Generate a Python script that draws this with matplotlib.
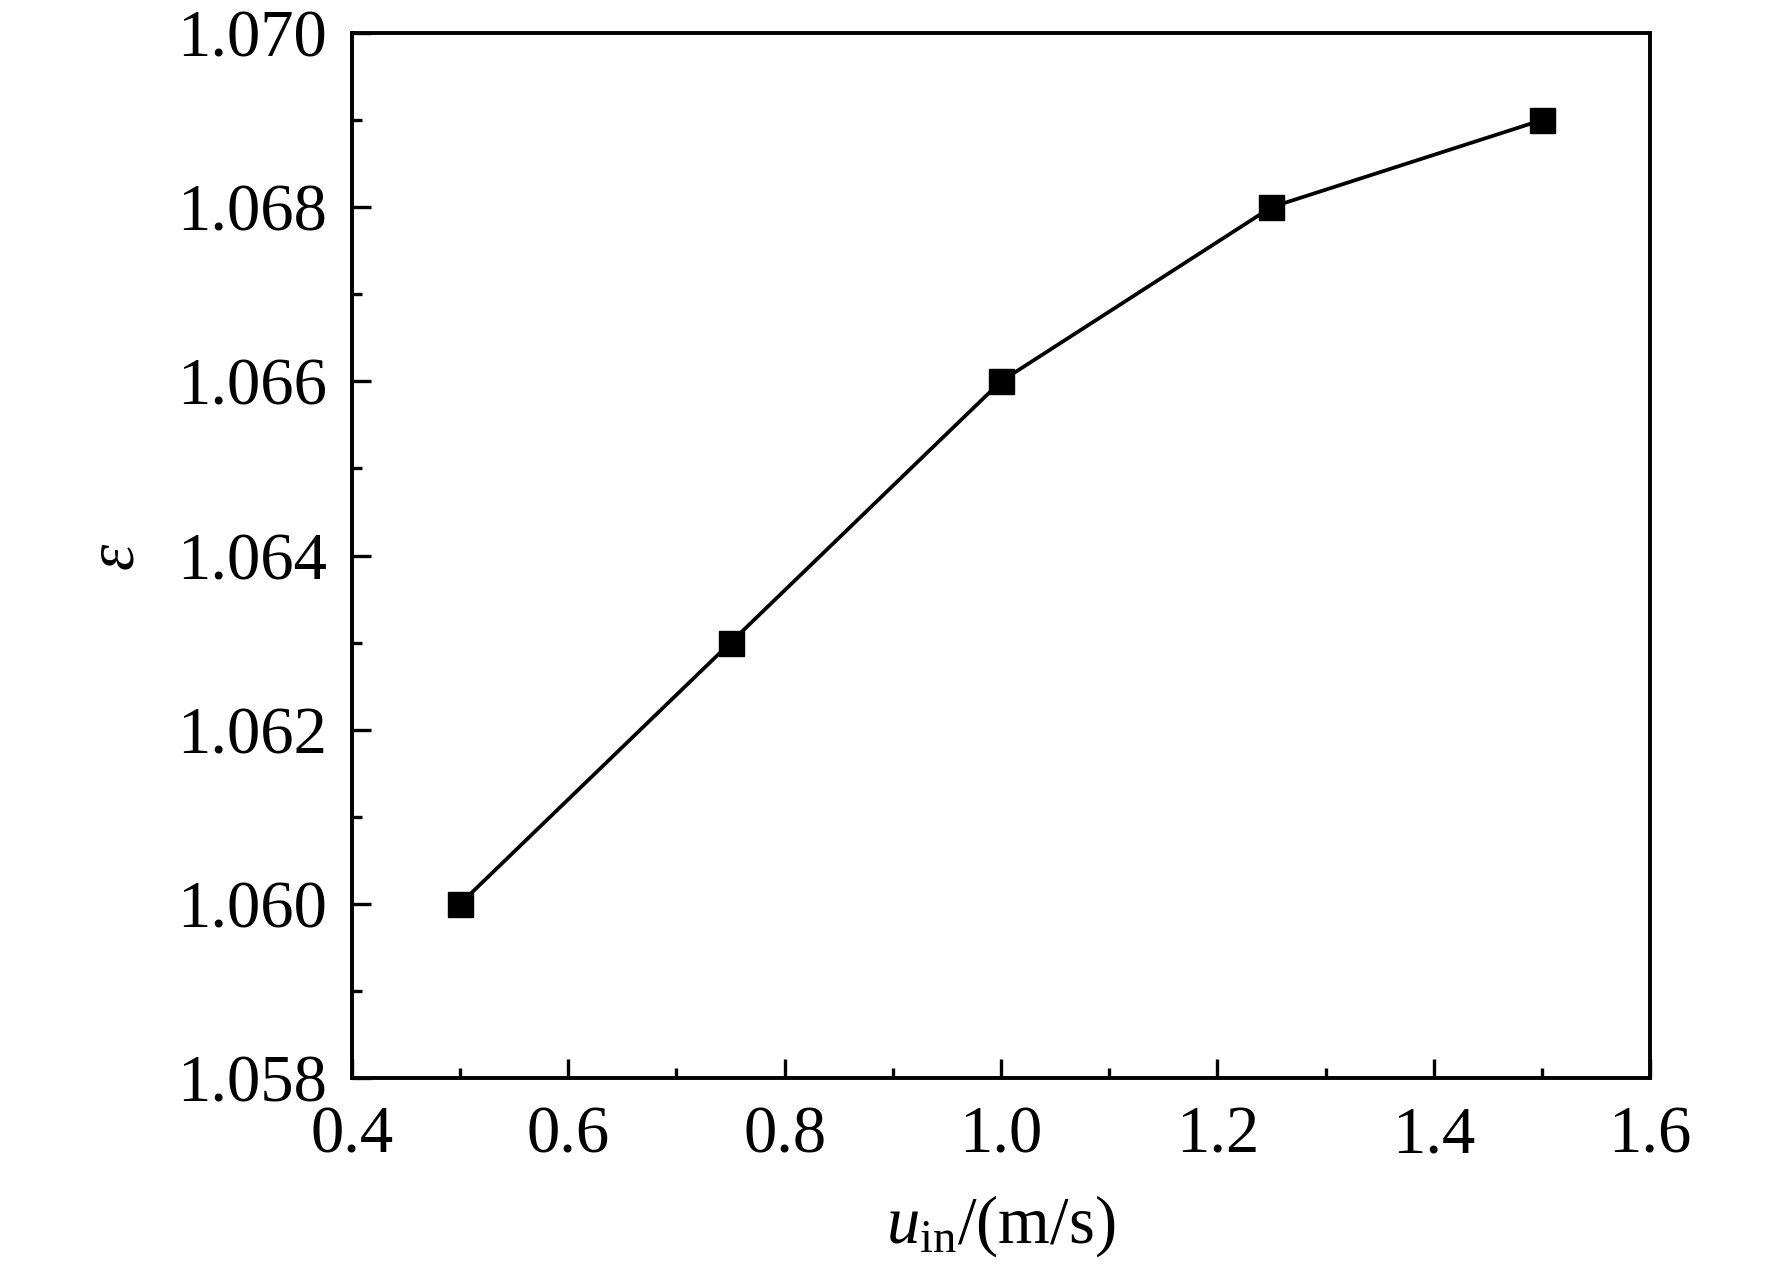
import matplotlib
matplotlib.use("Agg")
from matplotlib import pyplot as plt
from matplotlib.ticker import MultipleLocator, FormatStrFormatter

# inlet velocity vs epsilon
U_IN = [0.5, 0.75, 1.0, 1.25, 1.5]
EPS = [1.060, 1.063, 1.066, 1.068, 1.069]

plt.rcParams['font.family'] = ['Liberation Serif', 'DejaVu Serif']
plt.rcParams['mathtext.fontset'] = 'custom'
plt.rcParams['mathtext.rm'] = 'Liberation Serif'
plt.rcParams['mathtext.it'] = 'Liberation Serif:italic'

fig = plt.figure(figsize=(17.72, 12.68), dpi=100)
ax = fig.add_axes([0.1986, 0.1498, 0.7326, 0.8242])

ax.plot(U_IN, EPS, color='black', linewidth=2.7,
        marker='s', markersize=18)

ax.set_xlim(0.4, 1.6)
ax.set_ylim(1.058, 1.070)
ax.xaxis.set_major_locator(MultipleLocator(0.2))
ax.xaxis.set_minor_locator(MultipleLocator(0.1))
ax.yaxis.set_major_locator(MultipleLocator(0.002))
ax.yaxis.set_minor_locator(MultipleLocator(0.001))
ax.xaxis.set_major_formatter(FormatStrFormatter('%.1f'))
ax.yaxis.set_major_formatter(FormatStrFormatter('%.3f'))

ax.tick_params(which='major', direction='in', length=14, width=2.4,
               labelsize=48, pad=20)
ax.tick_params(which='minor', direction='in', length=7, width=2.4)
ax.tick_params(axis='y', which='both', pad=18)
for s in ax.spines.values():
    s.set_linewidth(2.8)

ax.set_xlabel(r'$u_{\mathrm{in}}$/(m/s)', fontsize=48, labelpad=19)
ax.set_ylabel('ε', fontsize=48, style='italic', labelpad=22)

fig.savefig("out.png", dpi=100)
